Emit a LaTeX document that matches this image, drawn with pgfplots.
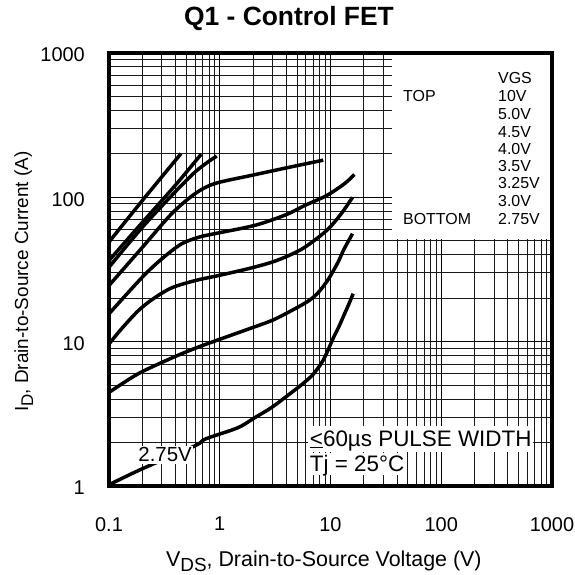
\documentclass[border=0pt]{standalone}
\usepackage{fontspec}
\setmainfont{Liberation Sans}
\usepackage{pgfplots}
\pgfplotsset{compat=1.18}
\begin{document}
\begin{tikzpicture}
\begin{axis}[
  scale only axis, width=443bp, height=433bp,
  xmode=log, ymode=log,
  xmin=0.1, xmax=1000, ymin=1, ymax=1000,
  xtick={0.1,1,10,100,1000}, xticklabels={0.1,1,10,100,1000},
  ytick={1,10,100,1000}, yticklabels={1,10,100,1000},
  minor xtick={0.2,0.3,0.4,0.5,0.6,0.7,0.8,0.9,2,3,4,5,6,7,8,9,20,30,40,50,60,70,80,90,200,300,400,500,600,700,800,900},
  minor ytick={2,3,4,5,6,7,8,9,20,30,40,50,60,70,80,90,200,300,400,500,600,700,800,900},
  major tick length=0pt, minor tick length=0pt,
  grid=both,
  major grid style={black, line width=1.2bp},
  minor grid style={black!90, line width=1bp},
  axis line style={line width=4bp},
  clip=false,
  /pgf/number format/assume math mode=true,
  tick label style={font=\fontsize{20}{20}\selectfont, inner sep=0pt},
  xticklabel style={yshift=-31bp},
  yticklabel style={xshift=-24bp, yshift=-2bp},
  xlabel={V\raisebox{-5bp}{\fontsize{19}{19}\selectfont DS}, Drain-to-Source Voltage (V)},
  xlabel style={at={(axis description cs:0.485,-0.187)}, anchor=base, inner sep=0pt, font=\fontsize{21.5}{21.5}\selectfont},
  ylabel={I\raisebox{-5bp}{\fontsize{17}{17}\selectfont D}, Drain-to-Source Current (A)},
  ylabel style={at={(axis description cs:-0.1828,0.4723)}, anchor=base, inner sep=0pt, font=\fontsize{19}{19}\selectfont},
  title={Q1 - Control FET},
  title style={at={(axis description cs:0.4063,1)}, anchor=base, yshift=22bp, inner sep=0pt, font=\bfseries\fontsize{26.5}{26.5}\selectfont},
  curve/.style={black, line width=3.5bp, mark=none, smooth, solid},
]
% 10V
\addplot[curve] coordinates {(0.1,49) (0.2,95) (0.447,201)};
% 5.0V
\addplot[curve] coordinates {(0.1,36.5) (0.2,67) (0.4,122) (0.68,199)};
% 4.5V
\addplot[curve] coordinates {(0.1,32.8) (0.2,62) (0.4,110) (0.6,150) (0.8,178) (0.94,193)};
% 4.0V
\addplot[curve] coordinates {(0.1,24.5) (0.2,45) (0.368,77) (0.598,106) (0.9,124.5) (1.94,142) (4,160) (8.6,181)};
% 3.5V
\addplot[curve] coordinates {(0.1,15.6) (0.2,28) (0.3,37.5) (0.45,47.5) (0.65,53) (0.9,56) (2.08,64) (4,76) (5.89,88) (9.25,103) (13.5,125) (16.4,144)};
% 3.25V
\addplot[curve] coordinates {(0.1,9.64) (0.13,12.3) (0.184,16.4) (0.25,19.8) (0.368,23.6) (0.6,26.5) (0.97,28.7) (1.8,32) (2.94,35.5) (4.2,39.5) (5.89,45.2) (9.25,59) (12.5,77) (15.8,100)};
% 3.0V
\addplot[curve] coordinates {(0.1,4.45) (0.184,6.0) (0.368,7.7) (0.6,9.0) (0.97,10.3) (1.8,12.2) (2.94,14) (4.05,15.8) (5.89,18.5) (7,20.3) (8,22.5) (9,25.3) (10,28.6) (11.8,36) (13.1,43) (15.8,56)};
% 2.75V
\addplot[curve] coordinates {(0.1,1.02) (0.197,1.31) (0.598,1.9) (0.736,2.11) (1.28,2.44) (1.58,2.61) (2.08,2.98) (2.94,3.5) (4.46,4.45) (5.6,5.1) (6.77,5.8) (7.7,6.55) (8.6,7.45) (9.6,8.9) (10.6,10.6) (11.9,12.7) (13.2,15.2) (14.6,18.1) (16,21.5)};

% legend area
\fill[white] (axis cs:35.7,51.5) rectangle (axis cs:1000,1000);
\begin{scope}[every node/.style={inner sep=0pt, anchor=west, font=\fontsize{16}{16}\selectfont}]
\node at (axis cs:325,671) {VGS};
\node at (axis cs:45.1,504) {TOP};
\node at (axis cs:325,504) {10V};
\node at (axis cs:325,378) {5.0V};
\node at (axis cs:325,283.6) {4.5V};
\node at (axis cs:325,216.2) {4.0V};
\node at (axis cs:325,164.9) {3.5V};
\node at (axis cs:325,125.7) {3.25V};
\node at (axis cs:325,94.3) {3.0V};
\node at (axis cs:325,70.8) {2.75V};
\node at (axis cs:45.1,70.8) {BOTTOM};
\end{scope}

% annotations
\node[anchor=base west, fill=white, inner sep=1.5bp, text height=19bp, text depth=4bp, font=\fontsize{22.5}{22.5}\selectfont] at (axis cs:6.30,1.893) {\underline{<}60µs PULSE WIDTH};
\node[anchor=base west, fill=white, inner sep=1.5bp, text height=17bp, text depth=2bp, font=\fontsize{22.5}{22.5}\selectfont] at (axis cs:6.30,1.256) {Tj = 25°C};
\node[anchor=base west, fill=white, inner sep=1.2bp, text height=14.5bp, text depth=1bp, font=\fontsize{20.5}{20.5}\selectfont] at (axis cs:0.179,1.474) {2.75V};

\draw[line width=4bp] (rel axis cs:0,0) rectangle (rel axis cs:1,1);
\coordinate (BL) at (rel axis cs:0,0);
\coordinate (TR) at (rel axis cs:1,1);
\end{axis}
\path ([xshift=-109bp,yshift=-89bp]BL) rectangle ([xshift=22bp,yshift=53bp]TR);
\end{tikzpicture}
\end{document}
